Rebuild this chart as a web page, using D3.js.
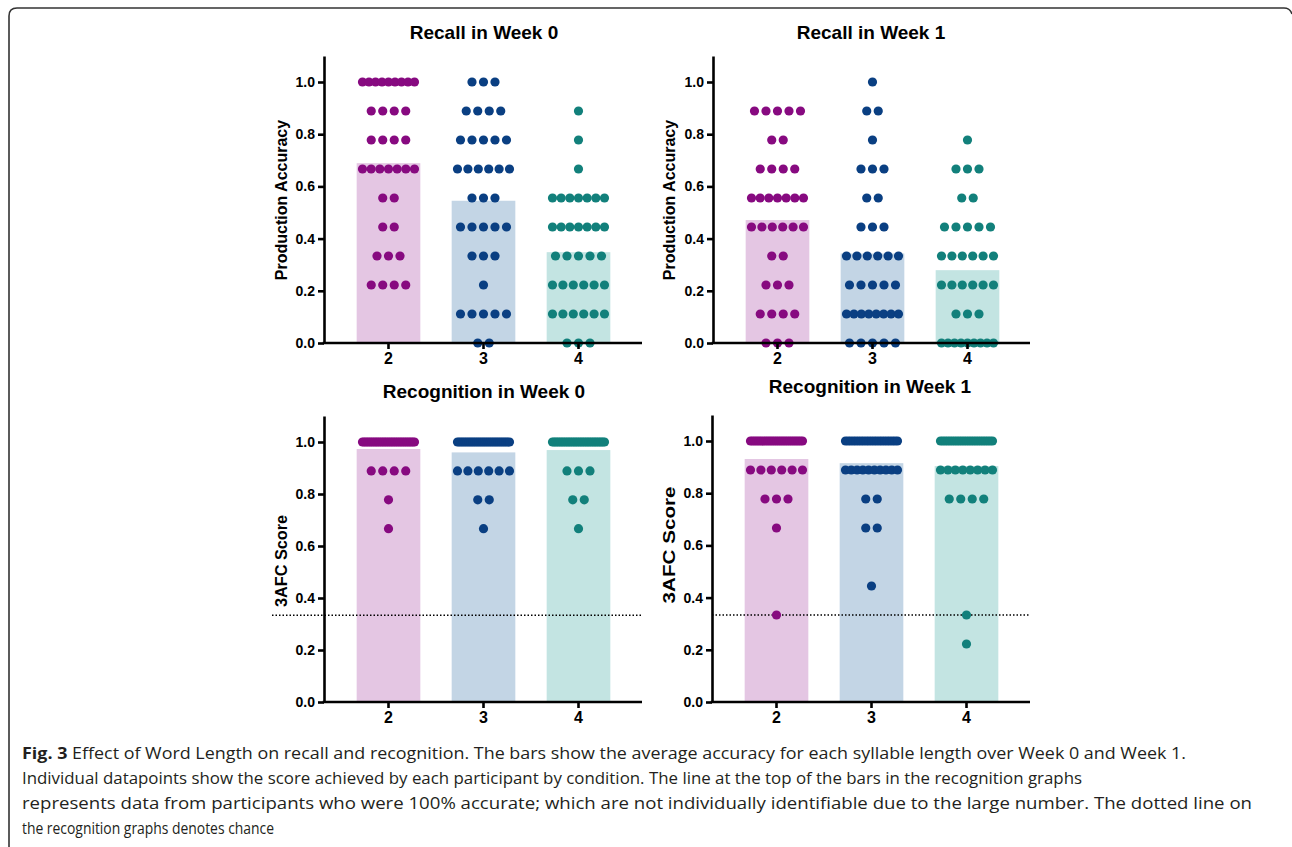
<!DOCTYPE html>
<html lang="en">
<head>
<meta charset="utf-8">
<title>Effect of Word Length on recall and recognition</title>
<script src="https://d3js.org/d3.v7.min.js"></script>
<style>
    body { margin: 0; background: #fff; }
    .tick text { font-family: "Liberation Sans", Arial, sans-serif; font-weight: bold; fill: #000; }
</style>
</head>
<body>
<svg id="fig" width="1292" height="847"></svg>
<script>
    // syllable lengths (x categories)
    const groups = ["2", "3", "4"];
    const dotColors = ["#870a80", "#0a3f82", "#12807b"];
    const barColors = ["#e4c6e3", "#c3d5e5", "#c3e4e2"];
    const yTicks = [0, 0.2, 0.4, 0.6, 0.8, 1.0];

    // number of participants at each score k/9 (k = 0..9), one row per group
    const recallW0Counts = [
        [0, 0, 4, 3, 2, 2, 7, 4, 4, 9],
        [2, 5, 1, 3, 5, 3, 6, 5, 4, 3],
        [3, 6, 6, 5, 7, 7, 1, 1, 1, 0]
    ];
    const recallW1Counts = [
        [3, 4, 3, 2, 6, 7, 4, 2, 5, 0],
        [5, 8, 5, 6, 3, 2, 3, 1, 2, 1],
        [9, 3, 6, 6, 5, 2, 3, 1, 0, 0]
    ];
    const recogW0Counts = [
        [0, 0, 0, 0, 0, 0, 1, 1, 4, 30],
        [0, 0, 0, 0, 0, 0, 1, 2, 6, 28],
        [0, 0, 0, 0, 0, 0, 1, 2, 3, 31]
    ];
    const recogW1Counts = [
        [0, 0, 0, 1, 0, 0, 1, 3, 6, 25],
        [0, 0, 0, 0, 1, 0, 2, 2, 10, 21],
        [0, 0, 1, 1, 0, 0, 0, 4, 8, 23]
    ];

    // bar heights (average accuracy)
    const recallW0Means = [0.689, 0.545, 0.348];
    const recallW1Means = [0.471, 0.343, 0.279];
    const recogW0Means = [0.973, 0.960, 0.969];
    const recogW1Means = [0.931, 0.915, 0.904];

    const chance = 1 / 3;

    const svg = d3.select("#fig");

    // figure frame (top / left edge with rounded corner)
    svg.append("path")
        .attr("d", "M9,847 L9,16 Q9,8 17,8 L1284,8 Q1290,8 1292,14")
        .attr("fill", "none")
        .attr("stroke", "#333")
        .attr("stroke-width", 1.6);

    const panels = [
        {title: "Recall in Week 0", ylab: "Production Accuracy", counts: recallW0Counts, means: recallW0Means,
            ax: 324, y0: 343, unit: 261, right: 642, tx: 484, ty: 39, lx: 287, ly: 200, labSize: 16, labLen: null, chance: false},
        {title: "Recall in Week 1", ylab: "Production Accuracy", counts: recallW1Counts, means: recallW1Means,
            ax: 713, y0: 343, unit: 261, right: 1030, tx: 871, ty: 39, lx: 675, ly: 200, labSize: 16, labLen: null, chance: false},
        {title: "Recognition in Week 0", ylab: "3AFC Score", counts: recogW0Counts, means: recogW0Means,
            ax: 324, y0: 702, unit: 260, right: 642, tx: 484, ty: 398, lx: 287, ly: 561, labSize: 16, labLen: 92, chance: true, cx0: 272},
        {title: "Recognition in Week 1", ylab: "3AFC Score", counts: recogW1Counts, means: recogW1Means,
            ax: 712, y0: 702, unit: 261, right: 1030, tx: 870, ty: 393, lx: 675, ly: 545, labSize: 17, labLen: 117, chance: true, cx0: 712}
    ];

    panels.forEach(drawPanel);

    function drawPanel(p) {
        const g = svg.append("g");
        const y = d3.scaleLinear().domain([0, 1.1]).range([p.y0, p.y0 - 1.1 * p.unit]);
        const x = d3.scaleBand().domain(groups)
            .range([p.ax + 17, p.ax + 302])
            .paddingInner(0.33).paddingOuter(0.165);

        // bars
        g.selectAll("rect.bar")
            .data(p.means)
            .join("rect")
            .attr("class", "bar")
            .attr("x", (d, i) => x(groups[i]))
            .attr("width", x.bandwidth())
            .attr("y", d => y(d))
            .attr("height", d => y(0) - y(d))
            .attr("fill", (d, i) => barColors[i]);

        // chance line
        if (p.chance) {
            g.append("line")
                .attr("x1", p.cx0).attr("x2", p.right)
                .attr("y1", y(chance)).attr("y2", y(chance))
                .attr("stroke", "#000")
                .attr("stroke-width", 1.5)
                .attr("stroke-dasharray", "1.5,2");
        }

        // points: one row per score level, spread horizontally
        let pts = [];
        p.counts.forEach((row, gi) => {
            row.forEach((n, k) => {
                if (n == 0) return;
                let step = n > 1 ? Math.min(11.5, 52 / (n - 1)) : 0;
                let cx = x(groups[gi]) + x.bandwidth() / 2;
                for (let j = 0; j < n; j++) {
                    pts.push({gi: gi, score: k / 9, off: (j - (n - 1) / 2) * step, cx: cx});
                }
            });
        });
        g.selectAll("circle")
            .data(pts)
            .join("circle")
            .attr("cx", d => d.cx + d.off)
            .attr("cy", d => y(d.score))
            .attr("r", 4.6)
            .attr("fill", d => dotColors[d.gi]);

        // y axis
        const yAxis = g.append("g")
            .attr("transform", "translate(" + p.ax + ",0)")
            .call(d3.axisLeft(y).tickValues(yTicks).tickFormat(d3.format(".1f")).tickSizeInner(6).tickSizeOuter(0).tickPadding(3));
        yAxis.selectAll("path, line").attr("stroke", "#000").attr("stroke-width", 2.6);
        yAxis.selectAll("text").style("font-size", "14px");

        // x axis
        const xAxis = g.append("g")
            .attr("transform", "translate(0," + p.y0 + ")")
            .call(d3.axisBottom(x).tickSizeInner(6).tickSizeOuter(0).tickPadding(4));
        xAxis.select(".domain").remove();
        xAxis.append("line")
            .attr("x1", p.ax - 1.3).attr("x2", p.right)
            .attr("stroke", "#000").attr("stroke-width", 2.6);
        xAxis.selectAll("line").attr("stroke", "#000").attr("stroke-width", 2.6);
        xAxis.selectAll("text").style("font-size", "16px");

        // title
        g.append("text")
            .attr("x", p.tx).attr("y", p.ty)
            .attr("text-anchor", "middle")
            .style("font-family", "'Liberation Sans', Arial, sans-serif")
            .style("font-weight", "bold")
            .style("font-size", "19px")
            .text(p.title);

        // y label
        const lab = g.append("text")
            .attr("transform", "translate(" + p.lx + "," + p.ly + ") rotate(-90)")
            .attr("text-anchor", "middle")
            .style("font-family", "'Liberation Sans', Arial, sans-serif")
            .style("font-weight", "bold")
            .style("font-size", p.labSize + "px")
            .text(p.ylab);
        if (p.labLen) lab.attr("textLength", p.labLen).attr("lengthAdjust", "spacingAndGlyphs");
    }

    // caption
    const captionLines = [
        "Effect of Word Length on recall and recognition. The bars show the average accuracy for each syllable length over Week 0 and Week 1.",
        "Individual datapoints show the score achieved by each participant by condition. The line at the top of the bars in the recognition graphs",
        "represents data from participants who were 100% accurate; which are not individually identifiable due to the large number. The dotted line on",
        "the recognition graphs denotes chance"
    ];
    const captionEnds = [1186, 1082, 1252, 274];

    captionLines.forEach((t, i) => {
        const txt = svg.append("text")
            .attr("x", 22)
            .attr("y", 759 + i * 25)
            .attr("textLength", captionEnds[i] - 22)
            .attr("lengthAdjust", "spacingAndGlyphs")
            .style("font-family", "'Open Sans', sans-serif")
            .style("font-size", "16px")
            .attr("fill", "#231f20");
        if (i == 0) {
            txt.append("tspan").style("font-weight", "bold").text("Fig. 3 ");
        }
        txt.append("tspan").text(t);
    });
</script>
</body>
</html>
